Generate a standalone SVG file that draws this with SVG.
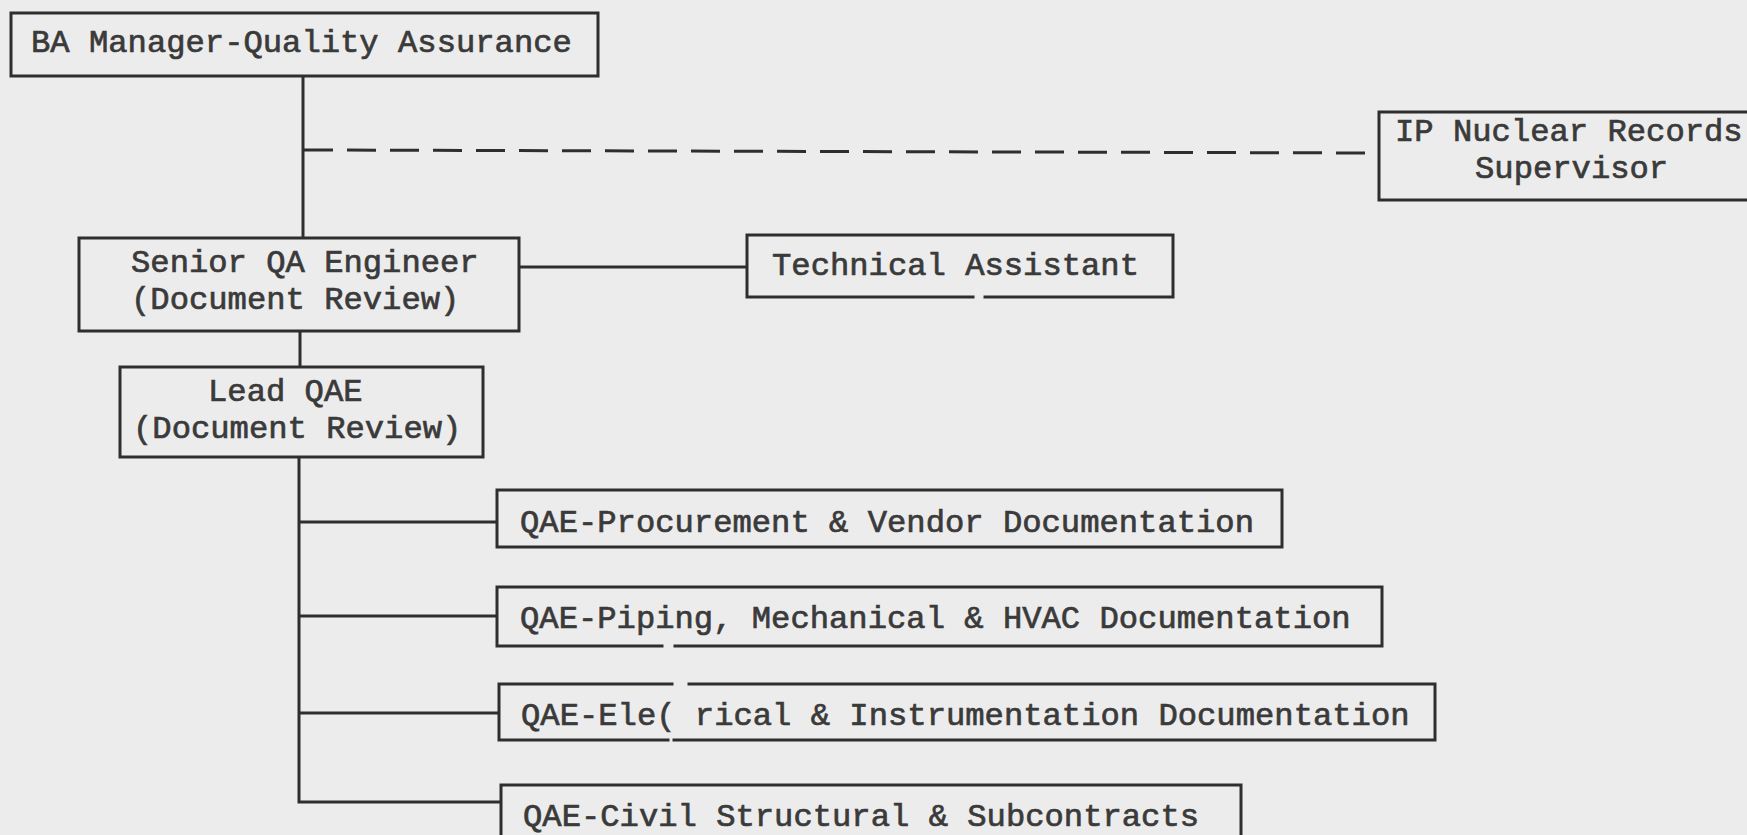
<svg xmlns="http://www.w3.org/2000/svg" width="1747" height="835" viewBox="0 0 1747 835">
  <style>
    .bg { fill: #ececec; }
    .box { fill: none; stroke: #2e2e2e; stroke-width: 3; stroke-linecap: square; }
    .line { fill: none; stroke: #2e2e2e; stroke-width: 3; }
    .dash { fill: none; stroke: #2e2e2e; stroke-width: 3; stroke-dasharray: 29 14; }
    .lbl { font-family: "Liberation Mono", "Courier New", monospace; font-size: 32.2px; fill: #3a3a3a; stroke: #3a3a3a; stroke-width: 0.7; }
  </style>
  <rect class="bg" x="0" y="0" width="1747" height="835"/>

  <!-- reporting lines -->
  <g id="connectors">
    <line class="line" x1="303" y1="76" x2="303" y2="238"/>
    <line class="dash" x1="304" y1="150" x2="1379" y2="153"/>
    <line class="line" x1="519" y1="267" x2="747" y2="267"/>
    <line class="line" x1="300" y1="331" x2="300" y2="367"/>
    <polyline class="line" points="299,457 299,802 501,802"/>
    <line class="line" x1="299" y1="522" x2="497" y2="522"/>
    <line class="line" x1="299" y1="616" x2="497" y2="616"/>
    <line class="line" x1="299" y1="713" x2="499" y2="713"/>
  </g>

  <g id="ba-manager">
    <rect class="box" x="11" y="13" width="587" height="63"/>
    <text class="lbl" x="31" y="52">BA Manager-Quality Assurance</text>
  </g>

  <g id="ip-records">
    <rect class="box" x="1379" y="112" width="390" height="88"/>
    <text class="lbl"><tspan x="1395" y="141">IP Nuclear Records</tspan><tspan x="1475" y="178">Supervisor</tspan></text>
  </g>

  <g id="senior-qa">
    <rect class="box" x="79" y="238" width="440" height="93"/>
    <text class="lbl"><tspan x="131" y="272">Senior QA Engineer</tspan><tspan x="131" y="309">(Document Review)</tspan></text>
  </g>

  <g id="tech-assistant">
    <path class="box" d="M985,297 H1173 V235 H747 V297 H973"/>
    <text class="lbl" x="772" y="275">Technical Assistant</text>
  </g>

  <g id="lead-qae">
    <rect class="box" x="120" y="367" width="363" height="90"/>
    <text class="lbl"><tspan x="208" y="401">Lead QAE</tspan><tspan x="133" y="438">(Document Review)</tspan></text>
  </g>

  <g id="qae-procurement">
    <rect class="box" x="497" y="490" width="785" height="57"/>
    <text class="lbl" x="520" y="532">QAE-Procurement &amp; Vendor Documentation</text>
  </g>

  <g id="qae-piping">
    <path class="box" d="M675,646 H1382 V587 H497 V646 H662"/>
    <text class="lbl" x="520" y="628">QAE-Piping, Mechanical &amp; HVAC Documentation</text>
  </g>

  <g id="qae-electrical">
    <path class="box" d="M689,684 H1435 V740 H674 M668,740 H499 V684 H672"/>
    <text class="lbl" x="521" y="725">QAE-Ele( rical &amp; Instrumentation Documentation</text>
  </g>

  <g id="qae-civil">
    <rect class="box" x="501" y="785" width="740" height="70"/>
    <text class="lbl" x="523" y="826">QAE-Civil Structural &amp; Subcontracts</text>
  </g>
</svg>
